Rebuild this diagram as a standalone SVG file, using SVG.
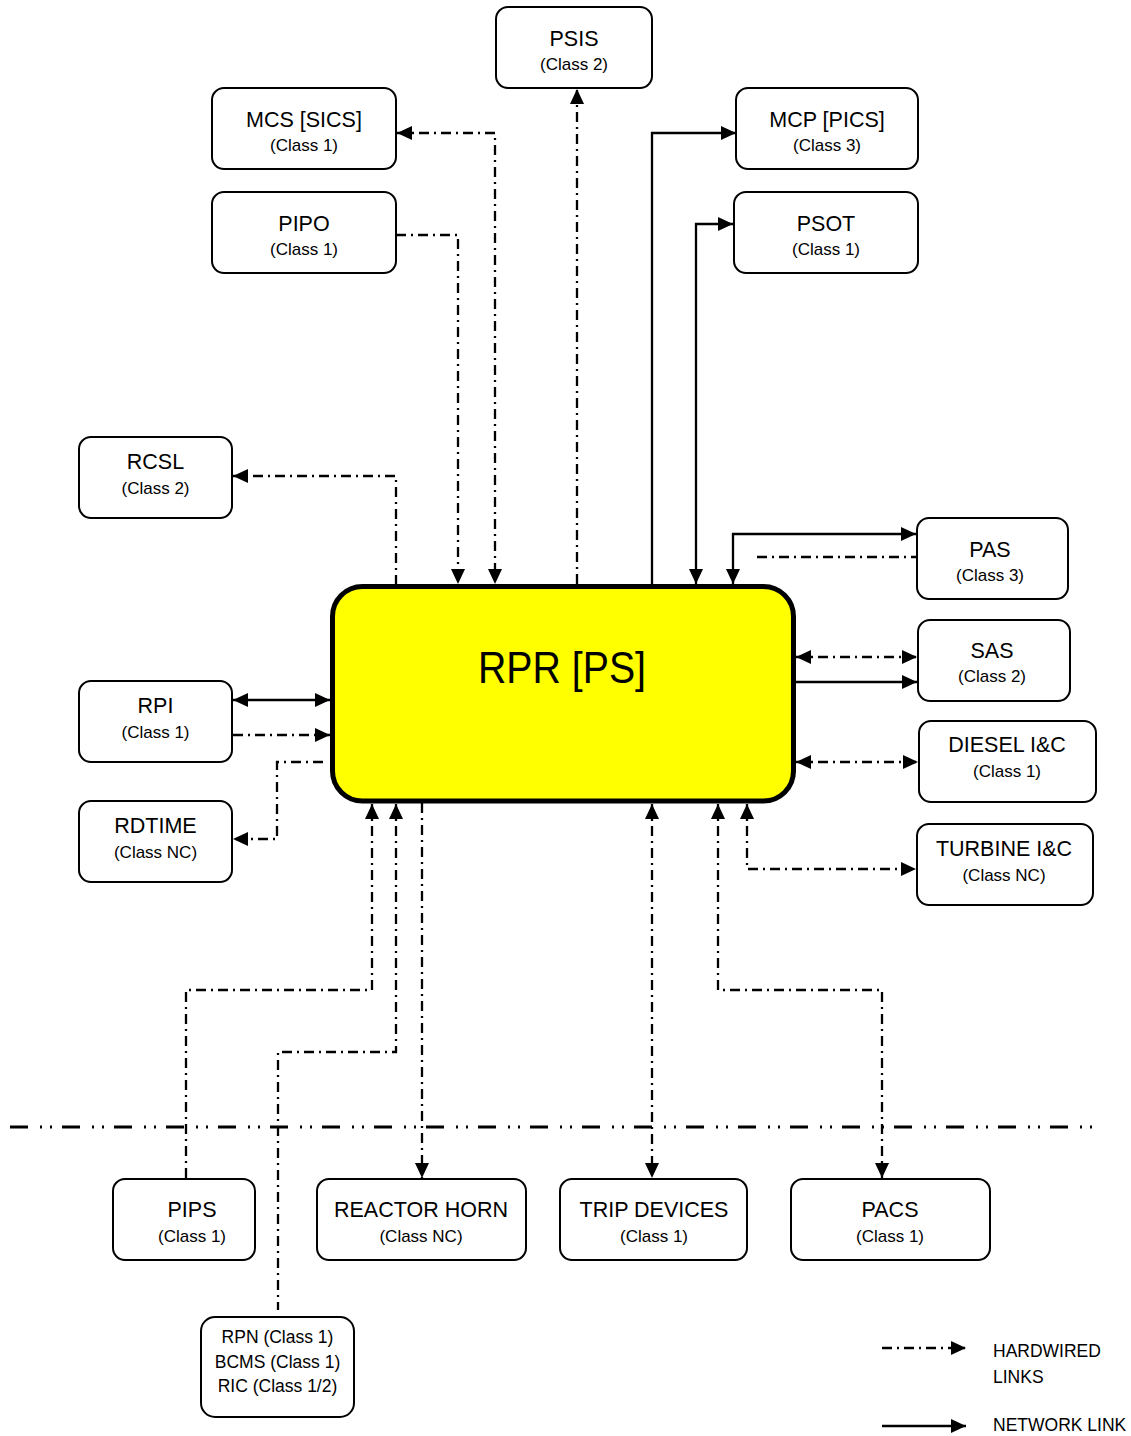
<svg xmlns="http://www.w3.org/2000/svg" width="1131" height="1436" viewBox="0 0 1131 1436">
<defs>
<style>
.box{fill:#fff;stroke:#000;stroke-width:2}
.t{font-family:"Liberation Sans",Arial,sans-serif;font-size:21.5px;fill:#000;text-anchor:middle}
.c{font-family:"Liberation Sans",Arial,sans-serif;font-size:17px;fill:#000;text-anchor:middle}
.l{font-family:"Liberation Sans",Arial,sans-serif;font-size:17.5px;fill:#000}
.hw{fill:none;stroke:#000;stroke-width:2.3;stroke-dasharray:10 5 2 5}
.nw{fill:none;stroke:#000;stroke-width:2.3}
.sep{fill:none;stroke:#000;stroke-width:3;stroke-dasharray:18 12 2 8 2 10}
</style>
<marker id="a" markerWidth="15" markerHeight="14" refX="15" refY="7" orient="auto-start-reverse" markerUnits="userSpaceOnUse" viewBox="0 0 15 14"><path d="M0,0 L15,7 L0,14 z" fill="#000"/></marker>
</defs>
<rect width="1131" height="1436" fill="#fff"/>

<g id="connectors">
<path class="hw" d="M397,133 H495 V584" marker-start="url(#a)" marker-end="url(#a)"/>
<path class="hw" d="M396,235 H458 V584" marker-end="url(#a)"/>
<path class="hw" d="M577,584 V89" marker-end="url(#a)"/>
<path class="hw" d="M396,585 V476 H233" marker-end="url(#a)"/>
<path class="nw" d="M652,585 V133 H736" marker-end="url(#a)"/>
<path class="nw" d="M733,224 H696 V584" marker-start="url(#a)" marker-end="url(#a)"/>
<path class="nw" d="M916,534 H733 V584" marker-start="url(#a)" marker-end="url(#a)"/>
<path class="hw" d="M757,557 H916"/>
<path class="hw" d="M796,657 H917" marker-start="url(#a)" marker-end="url(#a)"/>
<path class="nw" d="M795,682 H917" marker-end="url(#a)"/>
<path class="hw" d="M796,762 H918" marker-start="url(#a)" marker-end="url(#a)"/>
<path class="hw" d="M747,804 V869 H916" marker-start="url(#a)" marker-end="url(#a)"/>
<path class="hw" d="M718,804 V990 H882 V1178" marker-start="url(#a)" marker-end="url(#a)"/>
<path class="hw" d="M652,804 V1178" marker-start="url(#a)" marker-end="url(#a)"/>
<path class="hw" d="M422,803 V1178" marker-end="url(#a)"/>
<path class="hw" d="M396,804 V1052 H278 V1310" marker-start="url(#a)"/>
<path class="hw" d="M372,804 V990 H186 V1179" marker-start="url(#a)"/>
<path class="nw" d="M233,700 H330" marker-start="url(#a)" marker-end="url(#a)"/>
<path class="hw" d="M233,735 H330" marker-end="url(#a)"/>
<path class="hw" d="M323,762 H277 V839 H233" marker-end="url(#a)"/>
</g>

<path id="separator" class="sep" d="M10,1127 H1093"/>

<g id="RPR">
<rect x="332.5" y="586.5" width="461" height="214.5" rx="30" fill="#ffff00" stroke="#000" stroke-width="5"/>
<text x="562" y="683" font-family="Liberation Sans, Arial, sans-serif" font-size="45" text-anchor="middle" textLength="168" lengthAdjust="spacingAndGlyphs">RPR [PS]</text>
</g>

<g id="PSIS"><rect class="box" x="496" y="7" width="156" height="81" rx="12"/><text class="t" x="574" y="46">PSIS</text><text class="c" x="574" y="70">(Class 2)</text></g>
<g id="MCS"><rect class="box" x="212" y="88" width="184" height="81" rx="12"/><text class="t" x="304" y="127">MCS [SICS]</text><text class="c" x="304" y="151">(Class 1)</text></g>
<g id="PIPO"><rect class="box" x="212" y="192" width="184" height="81" rx="12"/><text class="t" x="304" y="231">PIPO</text><text class="c" x="304" y="255">(Class 1)</text></g>
<g id="MCP"><rect class="box" x="736" y="88" width="182" height="81" rx="12"/><text class="t" x="827" y="127">MCP [PICS]</text><text class="c" x="827" y="151">(Class 3)</text></g>
<g id="PSOT"><rect class="box" x="734" y="192" width="184" height="81" rx="12"/><text class="t" x="826" y="231">PSOT</text><text class="c" x="826" y="255">(Class 1)</text></g>
<g id="RCSL"><rect class="box" x="79" y="437" width="153" height="81" rx="12"/><text class="t" x="155.5" y="469">RCSL</text><text class="c" x="155.5" y="494">(Class 2)</text></g>
<g id="RPI"><rect class="box" x="79" y="681" width="153" height="81" rx="12"/><text class="t" x="155.5" y="713">RPI</text><text class="c" x="155.5" y="738">(Class 1)</text></g>
<g id="RDTIME"><rect class="box" x="79" y="801" width="153" height="81" rx="12"/><text class="t" x="155.5" y="833">RDTIME</text><text class="c" x="155.5" y="858">(Class NC)</text></g>
<g id="PAS"><rect class="box" x="917" y="518" width="151" height="81" rx="12"/><text class="t" x="990" y="557">PAS</text><text class="c" x="990" y="581">(Class 3)</text></g>
<g id="SAS"><rect class="box" x="918" y="620" width="152" height="81" rx="12"/><text class="t" x="992" y="658">SAS</text><text class="c" x="992" y="682">(Class 2)</text></g>
<g id="DIESEL"><rect class="box" x="919" y="721" width="177" height="81" rx="12"/><text class="t" x="1007" y="752">DIESEL I&amp;C</text><text class="c" x="1007" y="777">(Class 1)</text></g>
<g id="TURBINE"><rect class="box" x="917" y="824" width="176" height="81" rx="12"/><text class="t" x="1004" y="856">TURBINE I&amp;C</text><text class="c" x="1004" y="881">(Class NC)</text></g>
<g id="PIPS"><rect class="box" x="113" y="1179" width="142" height="81" rx="12"/><text class="t" x="192" y="1217">PIPS</text><text class="c" x="192" y="1242">(Class 1)</text></g>
<g id="HORN"><rect class="box" x="317" y="1179" width="209" height="81" rx="12"/><text class="t" x="421" y="1217">REACTOR HORN</text><text class="c" x="421" y="1242">(Class NC)</text></g>
<g id="TRIP"><rect class="box" x="560" y="1179" width="187" height="81" rx="12"/><text class="t" x="654" y="1217">TRIP DEVICES</text><text class="c" x="654" y="1242">(Class 1)</text></g>
<g id="PACS"><rect class="box" x="791" y="1179" width="199" height="81" rx="12"/><text class="t" x="890" y="1217">PACS</text><text class="c" x="890" y="1242">(Class 1)</text></g>
<g id="RPN"><rect class="box" x="201" y="1317" width="153" height="100" rx="14"/><text class="c" x="277.5" y="1343" style="font-size:17.5px">RPN (Class 1)</text><text class="c" x="277.5" y="1368" style="font-size:17.5px">BCMS (Class 1)</text><text class="c" x="277.5" y="1392" style="font-size:17.5px">RIC (Class 1/2)</text></g>

<g id="legend">
<path class="hw" d="M882,1348 H966" marker-end="url(#a)"/>
<path class="nw" d="M882,1426 H966" marker-end="url(#a)"/>
<text class="l" x="993" y="1357">HARDWIRED</text>
<text class="l" x="993" y="1383">LINKS</text>
<text class="l" x="993" y="1431">NETWORK LINK</text>
</g>
</svg>
